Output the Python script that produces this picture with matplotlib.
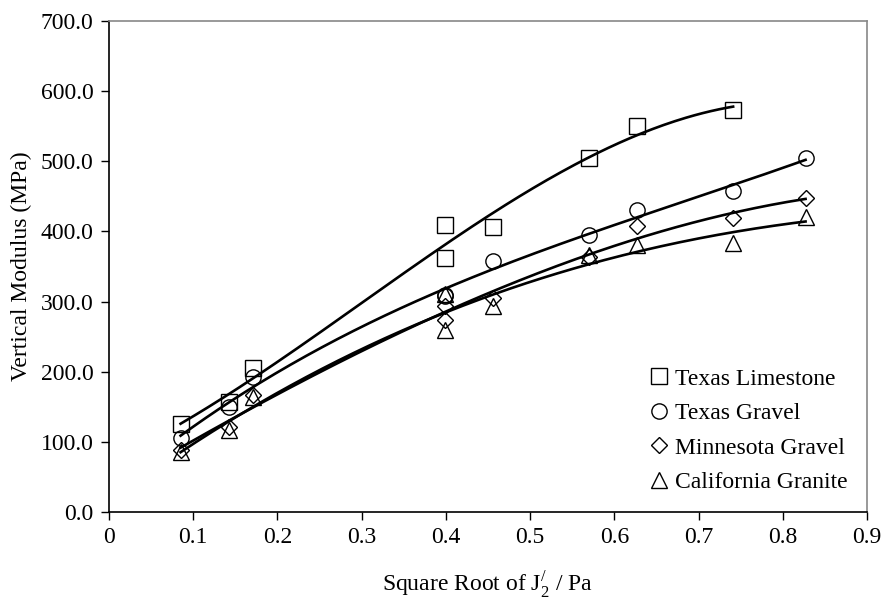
import numpy as np
import matplotlib
matplotlib.use("Agg")
import matplotlib.pyplot as plt

plt.rcParams['font.family'] = ['Liberation Serif', 'DejaVu Serif']
plt.rcParams['mathtext.fontset'] = 'custom'
plt.rcParams['mathtext.rm'] = 'Liberation Serif'

# measured points
lime_x = [0.085, 0.142, 0.171, 0.399, 0.399, 0.456, 0.570, 0.627, 0.741]
lime_y = [125, 157, 205, 409, 362, 407, 505, 551, 573]

tgrav_x = [0.085, 0.142, 0.171, 0.399, 0.399, 0.456, 0.570, 0.627, 0.741, 0.827]
tgrav_y = [106, 149, 193, 310, 308, 358, 395, 430, 457, 505]

mgrav_x = [0.085, 0.142, 0.171, 0.399, 0.399, 0.456, 0.570, 0.627, 0.741, 0.827]
mgrav_y = [88, 121, 167, 294, 274, 305, 363, 408, 419, 447]

cgran_x = [0.085, 0.142, 0.171, 0.399, 0.399, 0.456, 0.570, 0.627, 0.741, 0.827]
cgran_y = [86, 117, 164, 311, 259, 294, 366, 380, 383, 420]

series = [
    ("Texas Limestone", lime_x, lime_y, "s", 11),
    ("Texas Gravel", tgrav_x, tgrav_y, "o", 11),
    ("Minnesota Gravel", mgrav_x, mgrav_y, "D", 8),
    ("California Granite", cgran_x, cgran_y, "^", 11),
]

fig = plt.figure(figsize=(8.87, 6.05), dpi=100)
ax = fig.add_axes([0.1229, 0.1537, 0.8546, 0.8116])

for name, xs, ys, mk, ms in series:
    ax.plot(xs, ys, linestyle="none", marker=mk, markersize=ms,
            markerfacecolor="none", markeredgecolor="black",
            markeredgewidth=1.0, label=name)
    # polynomial trend line like excel
    c = np.polyfit(xs, ys, 3)
    xx = np.linspace(min(xs), max(xs), 200)
    ax.plot(xx, np.polyval(c, xx), color="black", lw=1.9)

ax.set_xlim(0, 0.9)
ax.set_ylim(0, 700)
ax.set_xticks(np.arange(0, 0.91, 0.1))
ax.set_xticklabels(["0"] + ["%.1f" % v for v in np.arange(0.1, 0.91, 0.1)])
ax.set_yticks(np.arange(0, 701, 100))
ax.set_yticklabels(["%.1f" % v for v in np.arange(0, 701, 100)])
ax.tick_params(direction="out", length=6, width=1, labelsize=17, pad=5)

for s in ["left", "bottom"]:
    ax.spines[s].set_color("black")
    ax.spines[s].set_linewidth(1.2)
for s in ["top", "right"]:
    ax.spines[s].set_color("#888888")
    ax.spines[s].set_linewidth(1.2)

ax.set_xlabel(r"Square Root of J$^{/}_{2}$ / Pa", fontsize=17, labelpad=15)
ax.set_ylabel("Vertical Modulus (MPa)", fontsize=17, labelpad=6)

ax.legend(loc="upper left", bbox_to_anchor=(0.715, 0.293), frameon=False,
          fontsize=17, handletextpad=0.3, handlelength=0.7,
          labelspacing=0.55, borderaxespad=0, borderpad=0)

fig.savefig("out.png", dpi=100)
